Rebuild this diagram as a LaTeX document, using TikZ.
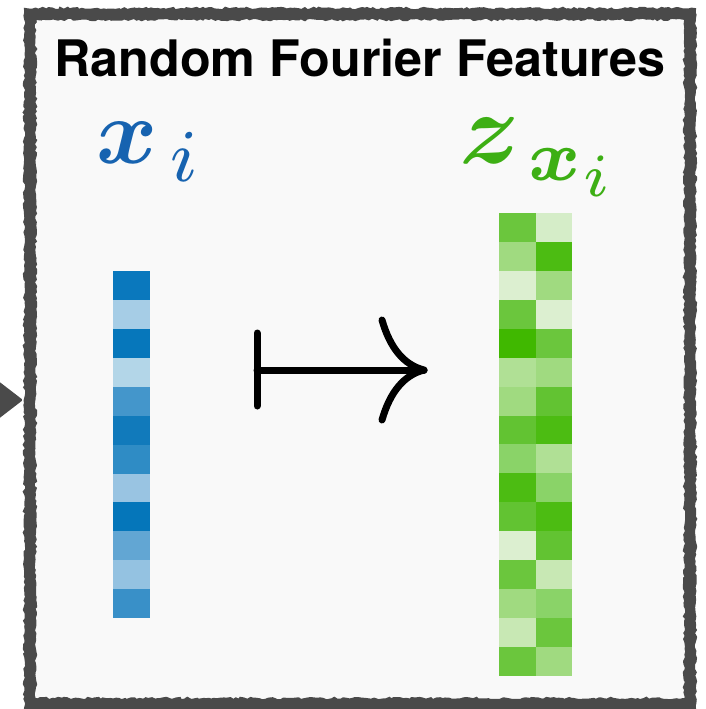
\documentclass[tikz,border=0pt]{standalone}
\usepackage{amsmath}
\usepackage{bm}
\usepackage{graphicx}
\usepackage{fontspec}
\newfontfamily\titlefont{TeX Gyre Heros}
\usetikzlibrary{decorations.pathmorphing}
\definecolor{framegray}{HTML}{4A4A4A}
\definecolor{paper}{HTML}{F9F9F9}
\definecolor{xblue}{HTML}{1763B0}
\definecolor{zgreen}{HTML}{3DAF14}
% blue cells
\definecolor{b1}{HTML}{0A78BD}
\definecolor{b2}{HTML}{A6CDE6}
\definecolor{b3}{HTML}{0677BB}
\definecolor{b4}{HTML}{B3D6E8}
\definecolor{b5}{HTML}{4496CB}
\definecolor{b6}{HTML}{117ABB}
\definecolor{b7}{HTML}{2F8CC5}
\definecolor{b8}{HTML}{99C4E2}
\definecolor{b9}{HTML}{0576BA}
\definecolor{b10}{HTML}{62A6D3}
\definecolor{b11}{HTML}{94C2E1}
\definecolor{b12}{HTML}{3990C8}
% green shades
\definecolor{g0}{HTML}{40B800}
\definecolor{g1}{HTML}{4CBC12}
\definecolor{g2}{HTML}{62C332}
\definecolor{g3}{HTML}{6BC63D}
\definecolor{g4}{HTML}{8AD368}
\definecolor{g5}{HTML}{A0DA80}
\definecolor{g6}{HTML}{B0E095}
\definecolor{g7}{HTML}{C8E8B4}
\definecolor{g8}{HTML}{D5EDC8}
\definecolor{g9}{HTML}{DCEFD0}
\tikzset{
  cell/.style={draw=none,inner sep=0pt,minimum width=36.6pt,minimum height=28.9pt,anchor=north west},
  roughline/.style={framegray,decorate,decoration={random steps,segment length=3pt,amplitude=1.2pt}},
  mapline/.style={line width=7pt,line cap=round,line join=round,black}
}
\newcommand{\subi}[1]{\text{\fontsize{#1}{#1}\selectfont$i$}}
\begin{document}
\begin{tikzpicture}[x=1pt,y=-1pt]
\pgfmathsetseed{7}
\useasboundingbox (0,0) rectangle (706,709);
\fill[white] (0,0) rectangle (706,709);
% paper
\fill[paper] (30,14) rectangle (690,704);
% frame
\draw[framegray,line width=9pt] (30,14) rectangle (690,704);
\draw[roughline,line width=3pt] (25.5,9.5) rectangle (694.5,708.5);
\draw[roughline,line width=3pt] (34.5,18.5) rectangle (685.5,699.5);
\draw[roughline,line width=2pt] (30,14) rectangle (690,704);
% left arrow tip
\fill[framegray,rounded corners=1.5pt] (-3,380) -- (23,400) -- (-3,420) -- cycle;
% title
\node[anchor=base,inner sep=0pt] (title) at (360,76) {\titlefont\bfseries\fontsize{50.3}{60}\selectfont Random Fourier Features};
% labels
\node[anchor=base west,inner sep=0pt,text=xblue] (xlab) at (96,163) {\scalebox{9.3}{$\bm{x}_{\kern1.4pt\raisebox{-0.5pt}{\subi{8.5}}}$}};
\node[anchor=base west,inner sep=0pt,text=zgreen] (zlab) at (459,163) {\scalebox{10.2}{$\bm{z}_{\kern1.2pt\raisebox{-0.2pt}{$\scriptstyle\bm{x}_{\kern0.2pt\subi{6.1}}$}}$}};
% blue vector
\foreach \c [count=\k from 0] in {b1,b2,b3,b4,b5,b6,b7,b8,b9,b10,b11,b12}{
  \node[cell,fill=\c,minimum width=37pt] (xc\k) at (113,{271+28.9*\k}) {};
}
% green matrix
\foreach \l/\r [count=\k from 0] in {g3/g8,g5/g1,g9/g5,g3/g9,g0/g3,g6/g5,g5/g2,g2/g1,g4/g6,g1/g4,g2/g1,g9/g2,g3/g7,g5/g4,g7/g3,g3/g5}{
  \node[cell,fill=\l] (zl\k) at (499,{213+28.9*\k}) {};
  \node[cell,fill=\r] (zr\k) at (535.3,{213+28.9*\k}) {};
}
% mapsto
\coordinate (mbar top) at (257,333);
\coordinate (mbar bot) at (257,406);
\coordinate (mstart) at (257,370);
\coordinate (mtip) at (424,370);
\coordinate (mbarbu) at (382,320);
\coordinate (mbarbd) at (382,420);
\draw[mapline] (mbar top) -- (mbar bot);
\draw[mapline] (mstart) -- (mtip);
\draw[mapline] (mbarbu) .. controls (390,348) and (404,365) .. (mtip) .. controls (404,375) and (390,392) .. (mbarbd);
\end{tikzpicture}
\end{document}
